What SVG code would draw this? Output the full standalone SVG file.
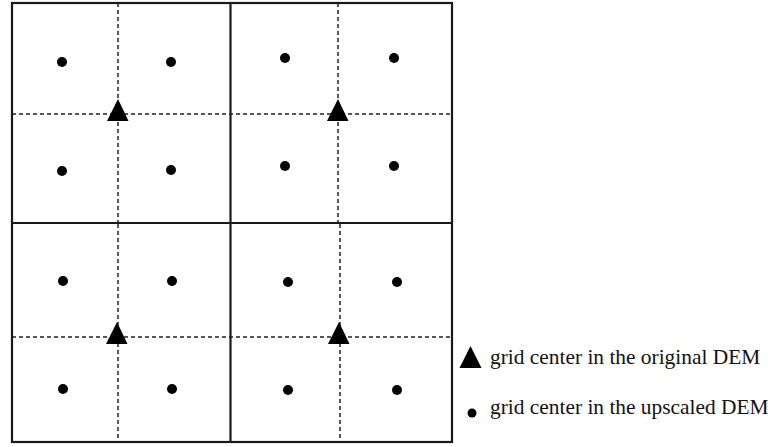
<svg xmlns="http://www.w3.org/2000/svg" width="768" height="447" viewBox="0 0 768 447">
<style>
.solid{stroke:#1a1a1a;stroke-width:2.2;fill:none}
.dash{stroke:#222;stroke-width:1.5;stroke-dasharray:4 3;fill:none}
.dot{fill:#000}
.tri{fill:#000}
.lbl{font-family:"Liberation Serif","Times New Roman",serif;font-size:21.4px;fill:#111}
</style>
<rect width="768" height="447" fill="#fff"/>
<g id="connectors">
<line class="dash" x1="118" y1="3" x2="118" y2="222"/>
<line class="dash" x1="12" y1="114" x2="452" y2="114"/>
<line class="dash" x1="338" y1="3" x2="338" y2="222"/>
<line class="dash" x1="118" y1="224" x2="118" y2="441"/>
<line class="dash" x1="12" y1="337" x2="452" y2="337"/>
<line class="dash" x1="340" y1="224" x2="340" y2="441"/>
</g>
<g id="grid">
<rect class="solid" x="12" y="3" width="440" height="439"/>
<line class="solid" x1="230.5" y1="3" x2="230.5" y2="442"/>
<line class="solid" x1="12" y1="223" x2="452" y2="223"/>
</g>
<g id="upscaled-centers">
<circle class="dot" cx="62" cy="62" r="5"/>
<circle class="dot" cx="171" cy="62" r="5"/>
<circle class="dot" cx="62" cy="171" r="5"/>
<circle class="dot" cx="171" cy="170" r="5"/>
<circle class="dot" cx="285" cy="58" r="5"/>
<circle class="dot" cx="394" cy="58" r="5"/>
<circle class="dot" cx="285" cy="166" r="5"/>
<circle class="dot" cx="394" cy="166" r="5"/>
<circle class="dot" cx="63" cy="281" r="5"/>
<circle class="dot" cx="172" cy="281" r="5"/>
<circle class="dot" cx="63" cy="389" r="5"/>
<circle class="dot" cx="172" cy="389" r="5"/>
<circle class="dot" cx="288" cy="282" r="5"/>
<circle class="dot" cx="397" cy="282" r="5"/>
<circle class="dot" cx="288" cy="390" r="5"/>
<circle class="dot" cx="397" cy="390" r="5"/>
</g>
<g id="original-centers">
<polygon class="tri" points="118,99 107,121 128.5,121"/>
<polygon class="tri" points="338,99 327,121 348.5,121"/>
<polygon class="tri" points="117,322 106,344 127.5,344"/>
<polygon class="tri" points="339,322 328,344 349.5,344"/>
</g>
<g id="legend">
<polygon class="tri" points="470.5,346 459.5,368 481.5,368"/>
<text class="lbl" x="490" y="364">grid center in the original DEM</text>
<circle class="dot" cx="472" cy="413" r="4.5"/>
<text class="lbl" x="490" y="414">grid center in the upscaled DEM</text>
</g>
</svg>
